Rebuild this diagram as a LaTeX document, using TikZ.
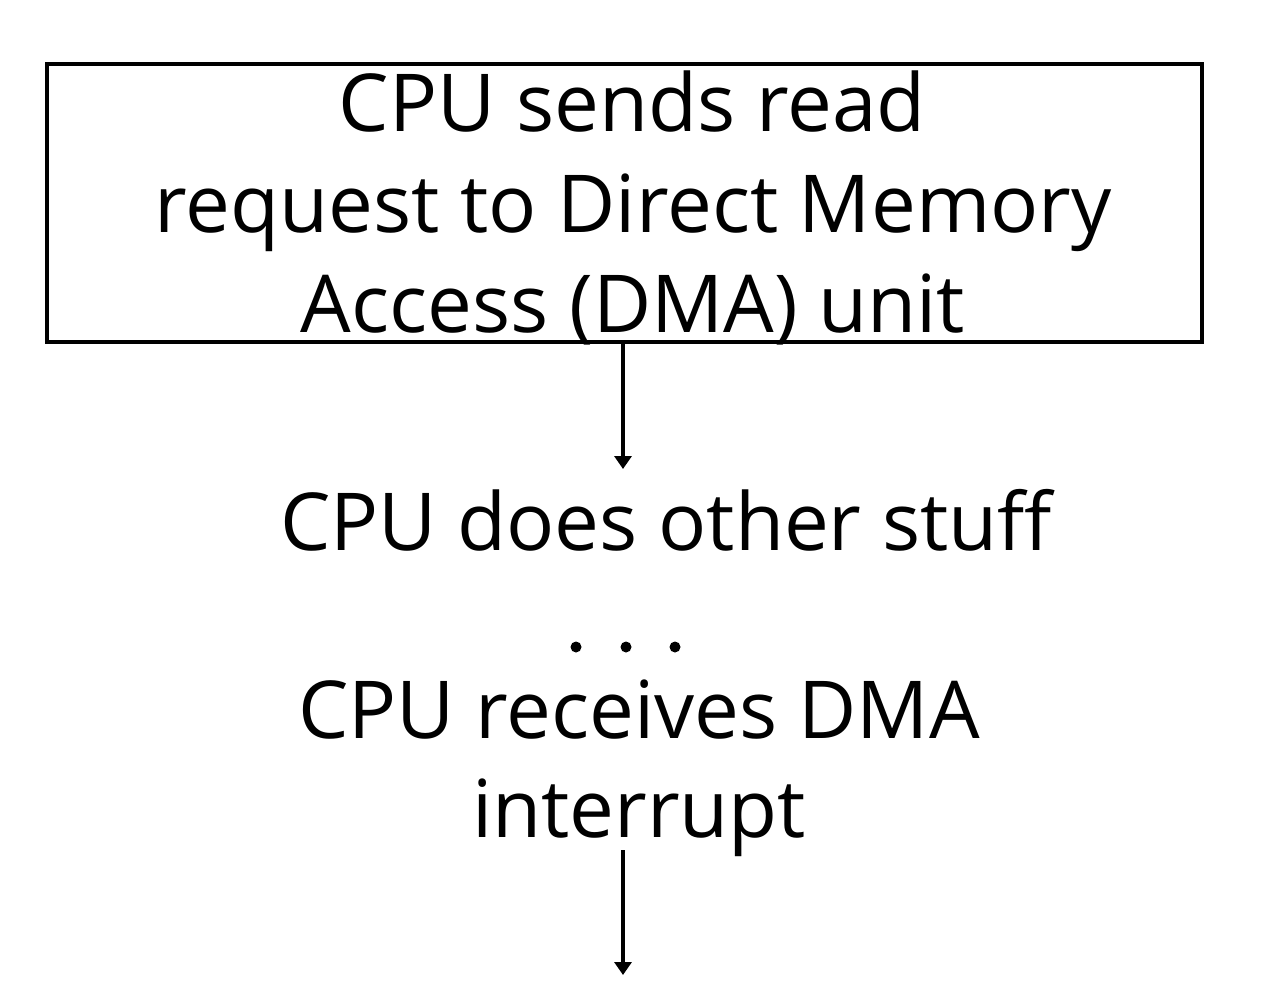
\documentclass[tikz,border=0pt]{standalone}
\usepackage{fontspec}
\setmainfont{Open Sans}
\usetikzlibrary{arrows.meta}
\begin{document}
\begin{tikzpicture}[x=0.02cm,y=-0.02cm,
  txt/.style={font=\fontsize{45.5}{57}\selectfont, inner sep=0pt, anchor=base},
  frame/.style={draw=black, line width=0.085cm, minimum width=23.1cm, minimum height=5.56cm, inner sep=0pt},
  arr/.style={line width=0.08cm, -{Triangle[width=0.34cm,length=0.26cm]}},
  dot/.style={circle, fill=black, inner sep=0pt, minimum size=0.22cm}]
\useasboundingbox (0,0) rectangle (1273,1000);
\node[frame] (box) at (624.5,203) {};
\node[txt] (l1) at (632,132) {CPU sends read};
\node[txt] (l2) at (633,232) {request to Direct Memory};
\node[txt] (l3) at (633,332) {Access (DMA) unit};
\node[txt] (stuff) at (666,550) {CPU does other stuff};
\node[dot] (d1) at (576,647) {};
\node[dot] (d2) at (626,647) {};
\node[dot] (d3) at (675,647) {};
\node[txt] (recv) at (639,738) {CPU receives DMA};
\node[txt] (intr) at (639,837) {interrupt};
\coordinate (a1end) at (623,469);
\coordinate (a2start) at (623,850);
\coordinate (a2end) at (623,975);
\draw[arr] (box.south -| a1end) -- (a1end);
\draw[arr] (a2start) -- (a2end);
\end{tikzpicture}
\end{document}
